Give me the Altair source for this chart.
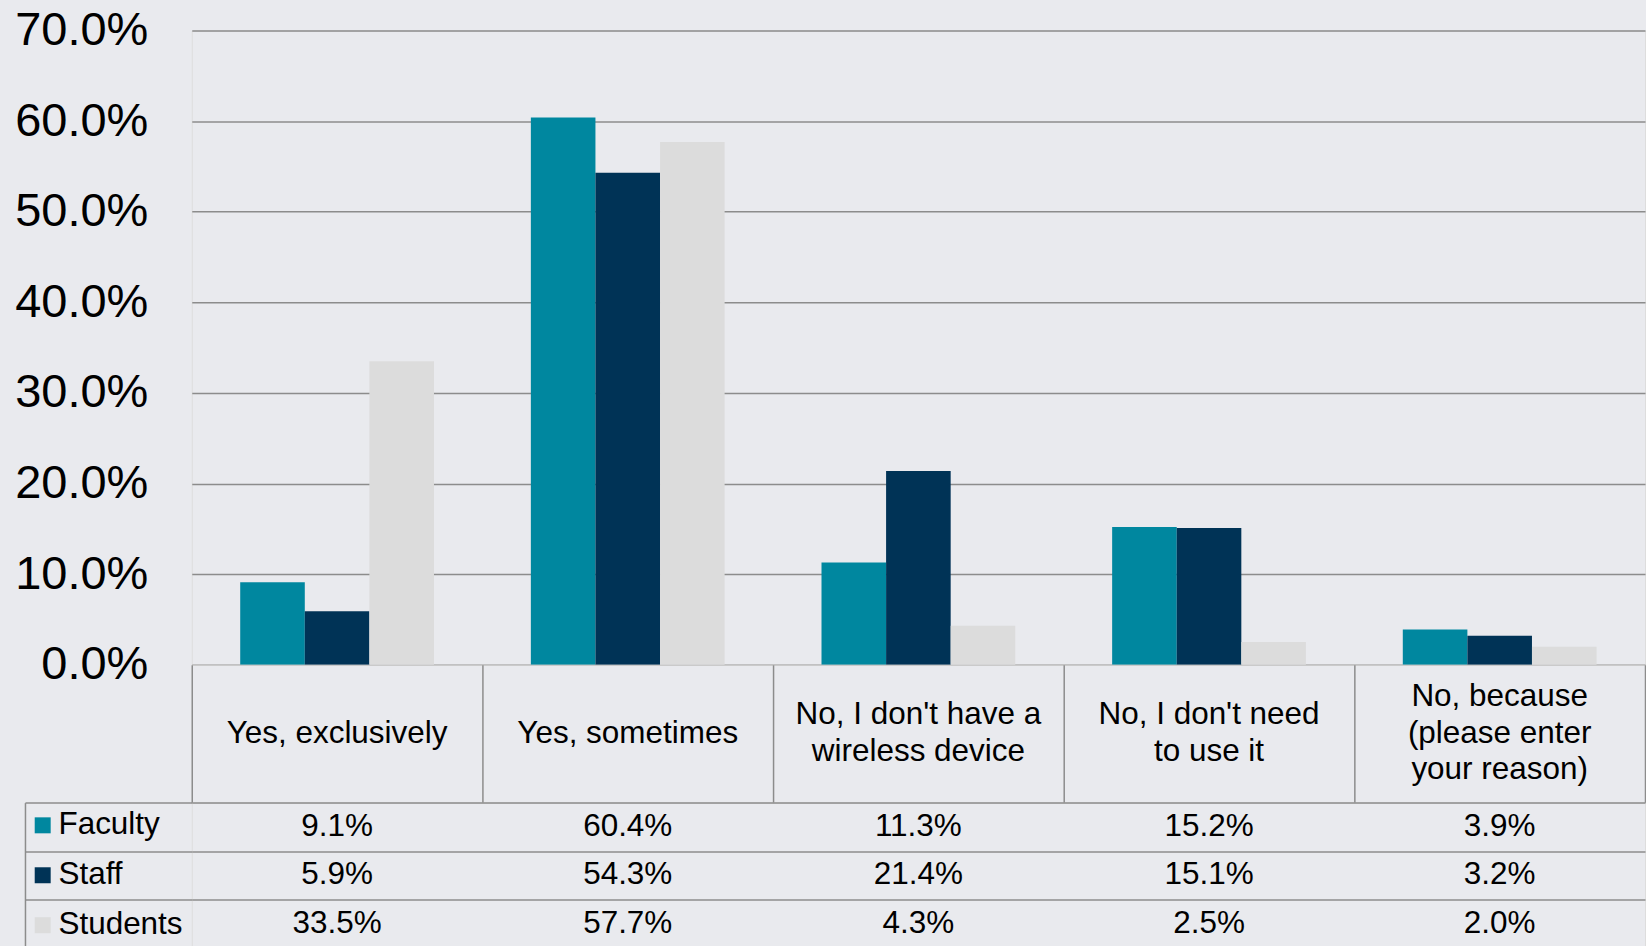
import altair as alt
import pandas as pd

categories = [
    "Yes, exclusively",
    "Yes, sometimes",
    "No, I don't have a\nwireless device",
    "No, I don't need\nto use it",
    "No, because\n(please enter\nyour reason)",
]
series = ["Faculty", "Staff", "Students"]
faculty = [9.1, 60.4, 11.3, 15.2, 3.9]
staff = [5.9, 54.3, 21.4, 15.1, 3.2]
students = [33.5, 57.7, 4.3, 2.5, 2.0]
colors = ["#00879F", "#003356", "#DCDCDC"]
y_ticks = [0, 10, 20, 30, 40, 50, 60, 70]

rows = []
for s, vals in zip(series, [faculty, staff, students]):
    for c, v in zip(categories, vals):
        rows.append({"category": c, "series": s, "value": v, "label": f"{v:.1f}%"})
df = pd.DataFrame(rows)

# one row per text line of each category label, centred on the row
line_rows = []
for c in categories:
    parts = c.split("\n")
    n = len(parts)
    for i, t in enumerate(parts):
        line_rows.append({"category": c, "line": t, "pos": i - (n - 1) / 2})
cat_df = pd.DataFrame(line_rows)

GRID = "#8C8C8C"
FONT = "Liberation Sans"
W = 1455
H_LABELS = 138
LINE_H = 36.5
half = H_LABELS / LINE_H / 2

bars = alt.Chart(df).mark_bar().encode(
    x=alt.X("category:N", sort=categories, axis=None,
            scale=alt.Scale(paddingInner=1/3, paddingOuter=1/6)),
    xOffset=alt.XOffset("series:N", sort=series,
                        scale=alt.Scale(paddingInner=0, paddingOuter=0)),
    y=alt.Y("value:Q", scale=alt.Scale(domain=[0, 70], nice=False),
            axis=alt.Axis(values=y_ticks, labelExpr="format(datum.value, '.1f') + '%'",
                          title=None, domain=False, ticks=False, labelFontSize=47,
                          labelPadding=44, grid=True, gridColor=GRID, gridWidth=1.5,
                          labelColor="black", labelFont=FONT)),
    color=alt.Color("series:N", sort=series,
                    scale=alt.Scale(domain=series, range=colors),
                    legend=alt.Legend(orient="none", legendX=-165, legendY=780, title=None,
                                      symbolType="square", symbolSize=256, symbolStrokeWidth=0,
                                      labelFontSize=31.5, labelFont=FONT, labelColor="black",
                                      rowPadding=17, padding=0, labelOffset=0,
                                      direction="vertical")),
).properties(width=W, height=635)

labels = alt.Chart(cat_df).mark_text(
    fontSize=31.5, font=FONT, color="black", baseline="middle"
).encode(
    x=alt.X("category:N", sort=categories,
            scale=alt.Scale(paddingInner=0, paddingOuter=0),
            axis=alt.Axis(title=None, labels=False, ticks=False, domain=False, grid=True,
                          tickBand="extent", gridColor=GRID, gridWidth=1.5)),
    y=alt.Y("pos:Q", axis=None,
            scale=alt.Scale(domain=[-half, half], nice=False, zero=False, reverse=True)),
    text="line:N",
).properties(width=W, height=H_LABELS)

table_text = alt.Chart(df).mark_text(
    fontSize=31.5, font=FONT, color="black", baseline="middle"
).encode(
    x=alt.X("category:N", sort=categories,
            scale=alt.Scale(paddingInner=0, paddingOuter=0),
            axis=alt.Axis(title=None, labels=False, ticks=False, domain=False, grid=True,
                          tickBand="extent", gridColor=GRID, gridWidth=1.5)),
    y=alt.Y("series:N", sort=series,
            scale=alt.Scale(paddingInner=0, paddingOuter=0),
            axis=alt.Axis(orient="left", title=None, labels=False, domain=False, ticks=True,
                          tickSize=167, tickBand="extent", tickColor=GRID, tickWidth=1.5,
                          grid=True, gridColor=GRID, gridWidth=1.5)),
    text="label:N",
)
border = alt.Chart(df).mark_text(opacity=0).encode(
    x=alt.X("category:N", sort=categories, axis=None),
    y=alt.Y("series:N", sort=series,
            axis=alt.Axis(orient="left", offset=167, title=None, labels=False, ticks=False,
                          grid=False, domain=True, domainColor=GRID, domainWidth=1.5)),
    text="label:N",
)
table = alt.layer(table_text, border).resolve_axis(y="independent").properties(
    width=W, height=145.5)

chart = alt.vconcat(bars, labels, table, spacing=0, bounds="flush").properties(
    padding={"left": 14, "top": 5, "right": 0, "bottom": 0},
    background="#E9EAEE",
).configure_view(stroke=GRID, strokeWidth=1.5).configure(font=FONT)

chart.save("out.html", embed_options={"renderer": "svg", "actions": False})
